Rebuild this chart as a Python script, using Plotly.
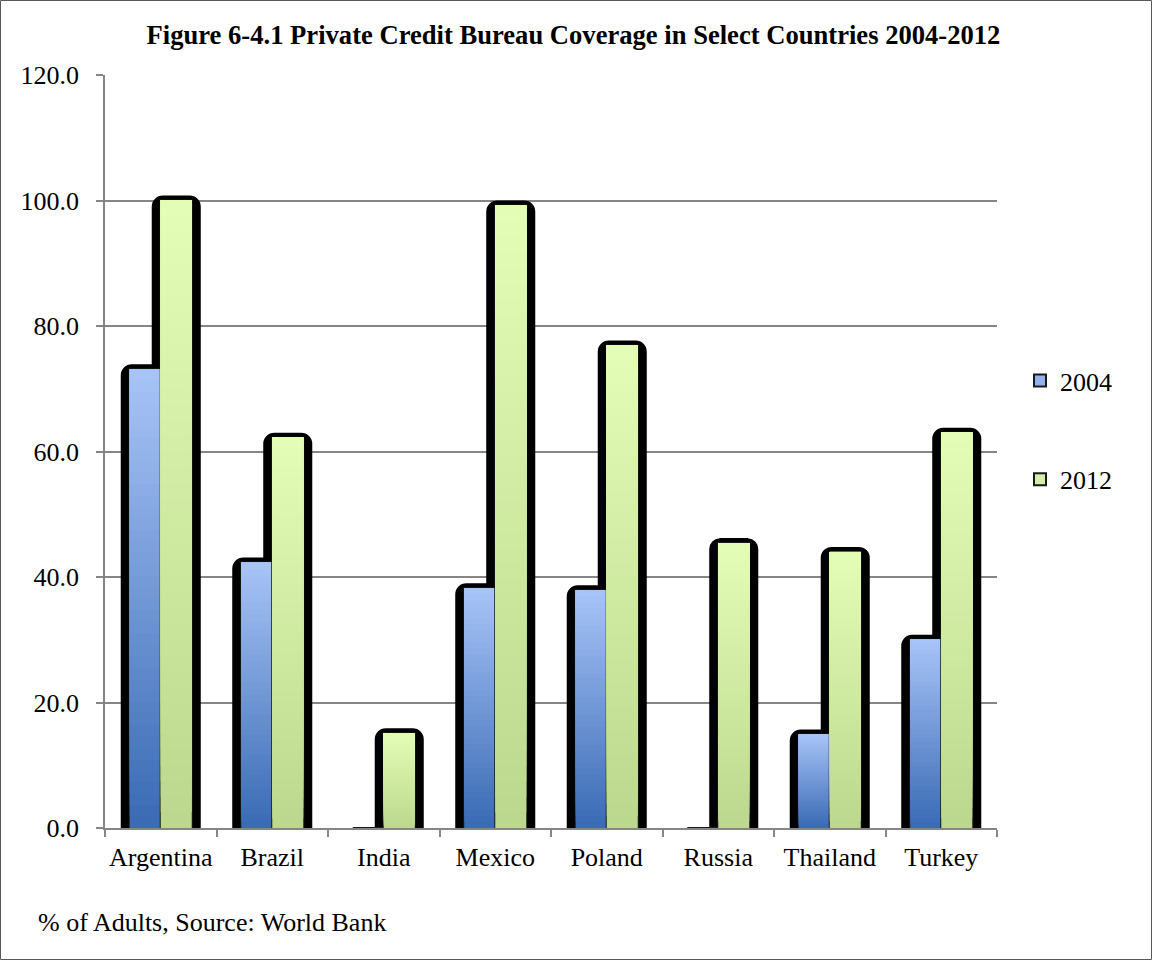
import plotly.graph_objects as go

# Private credit bureau coverage, % of adults
countries = ["Argentina", "Brazil", "India", "Mexico", "Poland", "Russia", "Thailand", "Turkey"]
cov_2004 = [73.1, 42.3, 0.0, 38.2, 37.9, 0.0, 14.9, 30.0]
cov_2012 = [100.0, 62.2, 15.1, 99.2, 76.9, 45.4, 44.0, 63.0]
y_ticks = [0, 20, 40, 60, 80, 100, 120]

W, H = 1153, 961
ML, MR, MT, MB = 105, 156, 75, 133
PW, PH = W - ML - MR, H - MT - MB

FONT = "Liberation Serif"
N_LAYERS = 40
BAR_W = 0.278          # fill width in category units
SHADOW_W = 0.35        # shadow body width (stroke adds the rest)

series = [
    dict(name="2004", values=cov_2004, offset=-BAR_W,
         bottom=(58, 107, 180), top=(167, 195, 247), swatch="#92B1EA"),
    dict(name="2012", values=cov_2012, offset=0.0,
         bottom=(188, 215, 142), top=(228, 253, 182), swatch="#D4EDA8"),
]


def lerp(c0, c1, t):
    return "rgb(%d,%d,%d)" % tuple(round(a + (b - a) * t) for a, b in zip(c0, c1))


fig = go.Figure()

# dark rounded shadows behind every non-empty bar
for s in series:
    fig.add_trace(go.Bar(
        x=countries, y=[v if v > 0 else None for v in s["values"]], width=SHADOW_W,
        offset=s["offset"] - (SHADOW_W - BAR_W) / 2,
        marker=dict(color="black", line=dict(color="black", width=10), cornerradius=6),
        showlegend=False, hoverinfo="skip",
    ))

# each series: outlined base bar (also the legend entry), then vertical gradient layers
for s in series:
    vals = s["values"]
    fig.add_trace(go.Bar(
        x=countries, y=vals, width=BAR_W, offset=s["offset"], name=s["name"],
        legendgroup=s["name"],
        marker=dict(color=s["swatch"], line=dict(color="#1a1a1a", width=2)),
    ))
    for k in range(N_LAYERS):
        frac = k / N_LAYERS
        fig.add_trace(go.Bar(
            x=countries,
            base=[v * frac for v in vals],
            y=[v * (1 - frac) for v in vals],
            width=BAR_W, offset=s["offset"],
            marker=dict(color=lerp(s["bottom"], s["top"], k / (N_LAYERS - 1)),
                        line=dict(width=0)),
            showlegend=False, hoverinfo="skip",
        ))

fig.update_layout(
    width=W, height=H,
    margin=dict(l=ML, r=MR, t=MT, b=MB),
    barmode="overlay",
    plot_bgcolor="white", paper_bgcolor="white",
    font=dict(family=FONT, size=26, color="black"),
    title=dict(
        text="<b>Figure 6-4.1 Private Credit Bureau Coverage in Select Countries 2004-2012</b>",
        font=dict(family=FONT, size=26.6, color="black"),
        x=(573.5 - ML) / PW, xref="paper", xanchor="center",
        y=1 - 35 / H, yref="container", yanchor="middle",
    ),
    legend=dict(
        x=(1020 - ML) / PW, xanchor="left",
        y=(MT + PH - 357) / PH, yanchor="top",
        font=dict(family=FONT, size=26, color="black"),
        tracegroupgap=62, traceorder="grouped",
        bgcolor="rgba(0,0,0,0)",
    ),
    xaxis=dict(
        type="category", showgrid=False, tickangle=0,
        showline=True, linecolor="#868686", linewidth=1.5,
        ticks="outside", tickson="boundaries", ticklen=7, tickcolor="#868686", tickwidth=1.5,
        ticklabelstandoff=5,
        tickfont=dict(family=FONT, size=26, color="black"),
    ),
    yaxis=dict(
        range=[0, 120], tickvals=y_ticks, tickformat=".1f",
        showgrid=True, gridcolor="#868686", gridwidth=1.5,
        showline=True, linecolor="#868686", linewidth=1.5,
        ticks="outside", ticklen=7, tickcolor="#868686", tickwidth=1.5,
        ticklabelstandoff=12,
        tickfont=dict(family=FONT, size=26, color="black"),
        zeroline=False,
    ),
)

# source note under the axis
fig.add_annotation(
    text="% of Adults, Source: World Bank",
    xref="paper", yref="paper",
    x=(36 - ML) / PW, xanchor="left",
    y=-(923 - MT - PH) / PH, yanchor="middle",
    showarrow=False, font=dict(family=FONT, size=26, color="black"),
)

# thin frame around the whole chart
fig.add_shape(
    type="rect", xref="paper", yref="paper",
    x0=-(ML - 0.5) / PW, x1=1 + (MR - 1.5) / PW,
    y0=-(MB - 1.5) / PH, y1=1 + (MT - 0.5) / PH,
    line=dict(color="#595959", width=1), fillcolor="rgba(0,0,0,0)", layer="below",
)

fig.write_html("out.html")
